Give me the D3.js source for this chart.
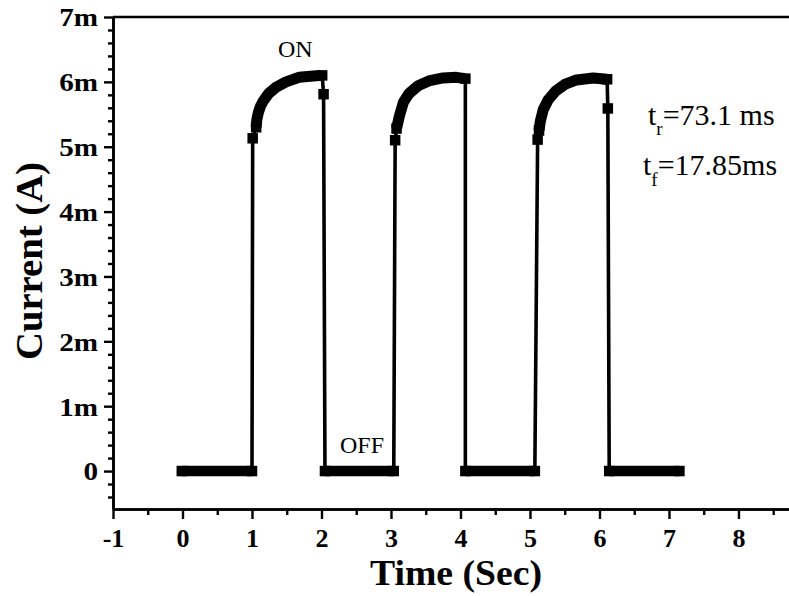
<!DOCTYPE html>
<html><head><meta charset="utf-8">
<script src="https://cdn.jsdelivr.net/npm/d3@7"></script>
<style>html,body{margin:0;padding:0;background:#fff;} svg{display:block;}</style>
</head><body><svg id="c" width="789" height="596"></svg>
<script>
// ---- data (time in s, current in mA) ----
const offStart = [-0.01, 2.05, 4.07, 6.14];
const offEnd   = [1.00, 3.04, 5.07, 7.15];
const riseMarkT = [1.01, 3.06, 5.11];
const riseMarkI = [5.13, 5.10, 5.11];
const on1T = [1.06, 1.07, 1.09, 1.12, 1.165, 1.24, 1.35, 1.49, 1.68, 1.88, 2.01];
const on1I = [5.30, 5.42, 5.52, 5.62, 5.71, 5.82, 5.92, 6.00, 6.07, 6.09, 6.10];
const on2T = [3.08, 3.12, 3.18, 3.26, 3.39, 3.56, 3.75, 3.94, 4.07];
const on2I = [5.28, 5.47, 5.69, 5.82, 5.94, 6.02, 6.06, 6.07, 6.05];
const on3T = [5.13, 5.15, 5.19, 5.26, 5.37, 5.50, 5.67, 5.91, 6.11];
const on3I = [5.25, 5.40, 5.57, 5.72, 5.86, 5.96, 6.03, 6.06, 6.04];
const fallMarkT = [2.03, null, 6.12];
const fallMarkI = [5.81, null, 5.59];
const yTickValues = [0, 1, 2, 3, 4, 5, 6, 7];
const yTickLabels = ["0", "1m", "2m", "3m", "4m", "5m", "6m", "7m"];
const xTickValues = [-1, 0, 1, 2, 3, 4, 5, 6, 7, 8];
const xTickLabels = ["-1", "0", "1", "2", "3", "4", "5", "6", "7", "8"];

const W = 789, H = 596;
const svg = d3.select("#c");
const x = d3.scaleLinear().domain([-1, 8.727]).range([113, 789]);
const y = d3.scaleLinear().domain([-0.585, 7]).range([509, 17]);

// build trace
const onT = [on1T, on2T, on3T], onI = [on1I, on2I, on3I];
const trace = [], bands = [], singles = [];
for (let k = 0; k < 4; k++) {
  const off = [[offStart[k], 0], [offEnd[k], 0]];
  trace.push(...off); bands.push(off);
  if (k < 3) {
    const rm = [riseMarkT[k], riseMarkI[k]];
    trace.push(rm); singles.push(rm);
    const on = onT[k].map((t, i) => [t, onI[k][i]]);
    trace.push(...on); bands.push(on);
    if (fallMarkT[k] !== null) {
      const fm = [fallMarkT[k], fallMarkI[k]];
      trace.push(fm); singles.push(fm);
    }
  }
}

const font = "'Liberation Serif','Times New Roman',serif";

// axes
const axL = svg.append("g").attr("transform", `translate(${x.range()[0]},0)`)
  .call(d3.axisLeft(y).tickValues(yTickValues).tickSize(9).tickSizeOuter(0)
    .tickFormat((d, i) => yTickLabels[i]).tickPadding(6));
const axLm = svg.append("g").attr("transform", `translate(${x.range()[0]},0)`)
  .call(d3.axisLeft(y).tickValues(d3.range(-0.4, 7, 0.2).filter(v => Math.abs(v - Math.round(v)) > 0.05))
    .tickSize(5).tickSizeOuter(0).tickFormat(""));
const axB = svg.append("g").attr("transform", `translate(0,${y.range()[0]})`)
  .call(d3.axisBottom(x).tickValues(xTickValues).tickSize(10).tickSizeOuter(0)
    .tickFormat((d, i) => xTickLabels[i]).tickPadding(10));
const axBm = svg.append("g").attr("transform", `translate(0,${y.range()[0]})`)
  .call(d3.axisBottom(x).tickValues(d3.range(-0.5, 8.6, 1)).tickSize(6).tickSizeOuter(0).tickFormat(""));
[axL, axLm, axB, axBm].forEach(g => {
  g.selectAll("path.domain").attr("stroke", "#000").attr("stroke-width", 2.6);
  g.selectAll(".tick line").attr("stroke", "#000").attr("stroke-width", 2.4);
  g.selectAll("text").attr("font-family", font).attr("font-weight", "bold")
    .attr("font-size", 26).attr("fill", "#000");
});
axL.selectAll("text").attr("dy", "0.34em").each(function () {
  const n = this.getComputedTextLength();
  d3.select(this).attr("textLength", n * 1.12).attr("lengthAdjust", "spacingAndGlyphs");
});
axB.selectAll("text").attr("dy", "0.71em");
// top frame line
svg.append("line").attr("x1", x.range()[0]).attr("x2", W).attr("y1", y.range()[1]).attr("y2", y.range()[1])
  .attr("stroke", "#000").attr("stroke-width", 2.6);

// data marks
const line = d3.line().x(d => x(d[0])).y(d => y(d[1]));
const ms = 10.5;
svg.append("path").attr("d", line(trace)).attr("fill", "none").attr("stroke", "#000").attr("stroke-width", 3.6);
bands.forEach(b => {
  svg.append("path").attr("d", line(b)).attr("fill", "none").attr("stroke", "#000")
    .attr("stroke-width", b.length > 2 ? 11 : ms).attr("stroke-linecap", "butt").attr("stroke-linejoin", "round");
});
const pts = bands.map(b => b[0]).concat(bands.map(b => b[b.length - 1])).concat(singles);
svg.append("g").selectAll("rect").data(pts).join("rect")
  .attr("x", d => x(d[0]) - ms / 2).attr("y", d => y(d[1]) - ms / 2)
  .attr("width", ms).attr("height", ms).attr("fill", "#000");

// annotations
svg.append("text").attr("x", 278).attr("y", 57).attr("font-family", font).attr("font-size", 24).text("ON");
svg.append("text").attr("x", 340).attr("y", 453).attr("font-family", font).attr("font-size", 24).text("OFF");
const tr = svg.append("text").attr("x", 648).attr("y", 125).attr("font-family", font).attr("font-size", 30);
tr.append("tspan").text("t");
tr.append("tspan").attr("font-size", 19).attr("dy", 10).text("r");
tr.append("tspan").attr("dy", -10).text("=73.1 ms");
const tf = svg.append("text").attr("x", 643).attr("y", 175).attr("font-family", font).attr("font-size", 30);
tf.append("tspan").text("t");
tf.append("tspan").attr("font-size", 19).attr("dy", 11).text("f");
tf.append("tspan").attr("dy", -11).text("=17.85ms");

// axis titles
svg.append("text").attr("transform", "translate(42,261) rotate(-90)").attr("text-anchor", "middle")
  .attr("font-family", font).attr("font-weight", "bold").attr("font-size", 37)
  .attr("textLength", 198).attr("lengthAdjust", "spacingAndGlyphs").text("Current (A)");
svg.append("text").attr("x", 456).attr("y", 585).attr("text-anchor", "middle")
  .attr("font-family", font).attr("font-weight", "bold").attr("font-size", 35)
  .attr("textLength", 172).attr("lengthAdjust", "spacingAndGlyphs").text("Time (Sec)");
</script></body></html>
